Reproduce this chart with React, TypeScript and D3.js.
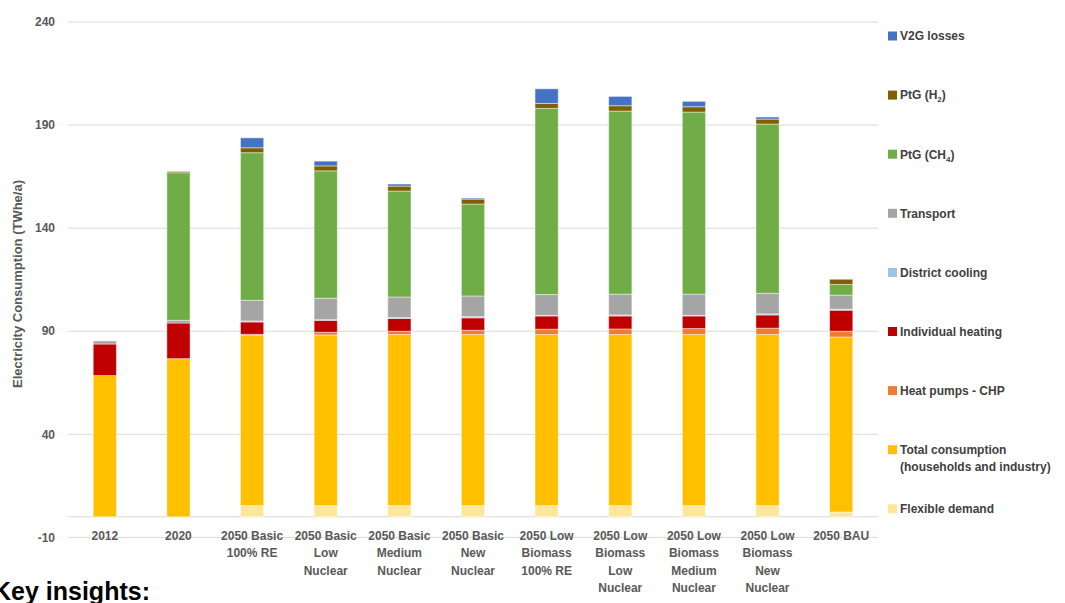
import React from "react";
import * as d3 from "d3";

const categories: string[][] = [
  ["2012"],
  ["2020"],
  ["2050 Basic", "100% RE"],
  ["2050 Basic", "Low", "Nuclear"],
  ["2050 Basic", "Medium", "Nuclear"],
  ["2050 Basic", "New", "Nuclear"],
  ["2050 Low", "Biomass", "100% RE"],
  ["2050 Low", "Biomass", "Low", "Nuclear"],
  ["2050 Low", "Biomass", "Medium", "Nuclear"],
  ["2050 Low", "Biomass", "New", "Nuclear"],
  ["2050 BAU"],
];

const flexibleDemand = [0, 0, 5.4, 5.4, 5.4, 5.4, 5.4, 5.4, 5.4, 5.4, 2.3];
const totalConsumption = [68.5, 76.7, 82.8, 82.8, 83.0, 83.0, 83.0, 83.0, 83.0, 83.0, 84.9];
const heatPumpsCHP = [0, 0, 0.3, 1.3, 1.6, 2.1, 2.6, 2.7, 2.9, 3.1, 2.8];
const individualHeating = [15.3, 17.3, 6.0, 5.8, 6.2, 6.0, 6.4, 6.3, 6.1, 6.4, 10.2];
const districtCooling = [0, 0, 0.5, 0.3, 0.4, 0.6, 0.3, 0.5, 0.3, 0.5, 0.5];
const transport = [1.5, 1.3, 10.0, 10.4, 10.0, 10.0, 10.1, 10.1, 10.3, 10.0, 6.8];
const ptgCH4 = [0, 71.6, 71.6, 61.8, 51.4, 44.6, 90.3, 88.8, 88.3, 82.1, 5.2];
const ptgH2 = [0, 0.6, 2.4, 2.4, 2.4, 2.4, 2.4, 2.6, 2.6, 2.4, 2.5];
const v2gLosses = [0, 0, 4.8, 2.3, 1.0, 0.5, 7.1, 4.5, 2.6, 1.0, 0];

const yTicks = [-10, 40, 90, 140, 190, 240];

type Series = { key: string; label: string[]; sub?: string; values: number[]; color: string };

// bottom to top stacking order
const series: Series[] = [
  { key: "flex", label: ["Flexible demand"], values: flexibleDemand, color: "#FFE699" },
  { key: "total", label: ["Total consumption", "(households and industry)"], values: totalConsumption, color: "#FFC000" },
  { key: "hp", label: ["Heat pumps - CHP"], values: heatPumpsCHP, color: "#ED7D31" },
  { key: "ih", label: ["Individual heating"], values: individualHeating, color: "#C00000" },
  { key: "dc", label: ["District cooling"], values: districtCooling, color: "#9DC3E6" },
  { key: "tr", label: ["Transport"], values: transport, color: "#A5A5A5" },
  { key: "ch4", label: ["PtG (CH"], sub: "4", values: ptgCH4, color: "#70AD47" },
  { key: "h2", label: ["PtG (H"], sub: "2", values: ptgH2, color: "#7F6000" },
  { key: "v2g", label: ["V2G losses"], values: v2gLosses, color: "#4472C4" },
];

const W = 1065;
const H = 603;
const left = 68;
const right = 878;
const font = "'Liberation Sans', Arial, sans-serif";

export default function App() {
  const y = d3.scaleLinear().domain([-10, 240]).range([537.4, 22]);
  const x = d3
    .scaleBand<number>()
    .domain(d3.range(categories.length))
    .range([left, right])
    .paddingInner(0.685)
    .paddingOuter(0.3425);

  const rows = categories.map((_, i) => {
    const r: Record<string, number> = {};
    series.forEach((s) => (r[s.key] = s.values[i]));
    return r;
  });
  const stacked = d3.stack<Record<string, number>>().keys(series.map((s) => s.key))(rows);

  const legendOrder = [...series].reverse();

  return (
    <svg width={W} height={H} style={{ position: "absolute", left: 0, top: 0, background: "#fff" }} fontFamily={font}>
      {yTicks.map((t) => (
        <g key={t}>
          <line x1={left} x2={right} y1={y(t)} y2={y(t)} stroke="#d9d9d9" strokeWidth={1} />
          <text x={55} y={y(t)} dy="0.35em" textAnchor="end" fontSize={12} fontWeight="bold" fill="#595959">
            {t}
          </text>
        </g>
      ))}
      <line x1={left} x2={right} y1={y(0)} y2={y(0)} stroke="#d9d9d9" strokeWidth={1} />
      {stacked.map((layer, si) => (
        <g key={layer.key}>
          {layer.map((d, i) => {
            const h = y(d[0]) - y(d[1]);
            if (h <= 0) return null;
            return (
              <rect
                key={i}
                x={x(i)!}
                y={y(d[1])}
                width={x.bandwidth()}
                height={h}
                fill={series[si].color}
                stroke="#ffffff"
                strokeOpacity={0.45}
                strokeWidth={1}
              />
            );
          })}
        </g>
      ))}
      {categories.map((lines, i) => (
        <text key={i} textAnchor="middle" fontSize={12} fontWeight="bold" fill="#595959">
          {lines.map((l, j) => (
            <tspan key={j} x={x(i)! + x.bandwidth() / 2} y={539.5 + j * 17.6}>
              {l}
            </tspan>
          ))}
        </text>
      ))}
      <text
        transform={`translate(22,284) rotate(-90)`}
        textAnchor="middle"
        fontSize={13}
        fontWeight="bold"
        fill="#595959"
      >
        Electricity Consumption (TWhe/a)
      </text>
      {legendOrder.map((s, i) => {
        const cy = 36 + i * 59.1;
        return (
          <g key={s.key}>
            <rect x={888} y={cy - 4.5} width={9} height={9} fill={s.color} />
            <text fontSize={12} fontWeight="bold" fill="#404040">
              {s.label.map((l, j) => (
                <tspan key={j} x={900} y={cy + 4.3 + j * 16.5}>
                  {l}
                  {s.sub && j === 0 ? (
                    <>
                      <tspan fontSize={8} dy={3}>
                        {s.sub}
                      </tspan>
                      <tspan dy={-3}>)</tspan>
                    </>
                  ) : null}
                </tspan>
              ))}
            </text>
          </g>
        );
      })}
      <text x={-7} y={600} fontSize={25} fontWeight="bold" fill="#000">
        Key insights:
      </text>
    </svg>
  );
}
